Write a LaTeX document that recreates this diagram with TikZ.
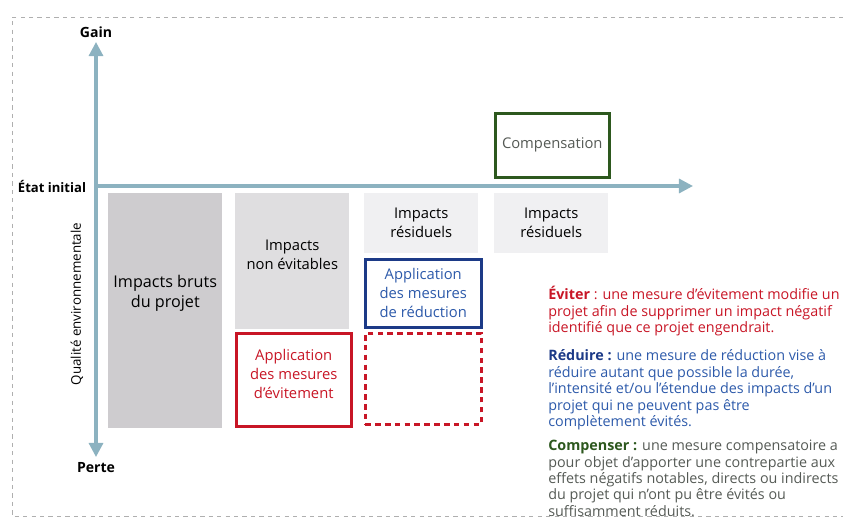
\documentclass[tikz,border=0pt]{standalone}
\usepackage{fontspec}
\setmainfont{Open Sans}
\usepackage{tikz}
\usetikzlibrary{positioning, arrows.meta}
\definecolor{AxeBleu}{RGB}{140,178,192}
\definecolor{GrisFonce}{RGB}{206,204,207}
\definecolor{GrisMoyen}{RGB}{223,222,224}
\definecolor{GrisClair}{RGB}{240,240,242}
\definecolor{EviterRouge}{RGB}{200,22,38}
\definecolor{ReduireBleu}{RGB}{28,58,135}
\definecolor{ReduireTexte}{RGB}{45,90,170}
\definecolor{CompVert}{RGB}{45,88,30}
\definecolor{CompTexte}{RGB}{85,90,85}
\definecolor{Cadre}{RGB}{175,175,175}

\begin{document}
\begin{tikzpicture}[
    impact/.style={rectangle, inner sep=0pt, anchor=north west},
    mesure/.style={rectangle, draw, line width=1.8pt, inner sep=0pt, anchor=north west, fill=white},
    boxtext/.style={font=\fontsize{10.5}{13.5}\selectfont, align=center},
    deftext/.style={font=\fontsize{10.2}{11.7}\selectfont, align=left, anchor=north west, inner sep=0pt},
    axe/.style={AxeBleu, line width=2.2pt}
  ]
        \useasboundingbox (0,0) rectangle (21.075,12.95);
        % Frame
        \draw[Cadre, dashed, thin] (21.075,12.525) -- (0.3,12.525) -- (0.3,0.05) -- (21.075,0.05);

        % Axes
        \coordinate (axeHaut) at (2.4,11.9);
        \coordinate (axeBas) at (2.4,1.525);
        \coordinate (origine) at (2.4,8.3);
        \coordinate (axeFin) at (17.325,8.3);
        \draw[axe, {Triangle[width=10pt,length=10pt]}-{Triangle[width=10pt,length=10pt]}] (axeBas) -- (axeHaut);
        \draw[axe, -{Triangle[width=10pt,length=10pt]}] (origine) -- (axeFin);
        \node[font=\fontsize{10}{12}\selectfont\bfseries] (gain) at (2.4,12.15) {Gain};
        \node[font=\fontsize{10}{12}\selectfont\bfseries] (perte) at (2.4,1.25) {Perte};
        \node[font=\fontsize{9.3}{12}\selectfont\bfseries] (etat) at (1.3,8.29) {État initial};
        \node[font=\fontsize{9.5}{12}\selectfont, rotate=90] (qualite) at (1.925,5.35) {Qualité environnementale};

        % Impacts (grey blocks)
        \node[impact, fill=GrisFonce, minimum width=2.85cm, minimum height=5.875cm] (brut) at (2.7,8.125) {};
        \node[boxtext, font=\fontsize{11.5}{14.5}\selectfont] (brutTxt) at ([yshift=0.44cm]brut.center) {Impacts bruts\\du projet};
        \node[impact, fill=GrisMoyen, minimum width=2.85cm, minimum height=3.4cm] (nonevit) at (5.875,8.125) {};
        \node[boxtext] (nonevitTxt) at ([yshift=0.15cm]nonevit.center) {Impacts\\non évitables};
        \node[impact, fill=GrisClair, minimum width=2.85cm, minimum height=1.5cm, boxtext] (residuA) at (9.1,8.125) {Impacts\\résiduels};
        \node[impact, fill=GrisClair, minimum width=2.85cm, minimum height=1.5cm, boxtext] (residuB) at (12.35,8.125) {Impacts\\résiduels};

        % Mesures
        \node[mesure, draw=EviterRouge, minimum width=2.875cm, minimum height=2.325cm] (evitement) at (5.875,4.65) {};
        \node[boxtext, text=EviterRouge] (evitementTxt) at ([yshift=0.14cm]evitement.center) {Application\\des mesures\\d'évitement};
        \node[mesure, draw=ReduireBleu, text=ReduireTexte, minimum width=2.9cm, minimum height=1.7cm, boxtext] (reduction) at (9.1,6.5) {Application\\des mesures\\de réduction};
        \node[mesure, draw=EviterRouge, dash pattern=on 4pt off 3pt, minimum width=2.9cm, minimum height=2.275cm] (evitementB) at (9.1,4.65) {};
        \node[mesure, draw=CompVert, text=CompTexte, minimum width=2.85cm, minimum height=1.6cm, boxtext] (compensation) at (12.35,10.15) {Compensation};

        % Definitions
        \node[deftext, text=EviterRouge] (defEviter) at (13.7,5.8) {\textbf{Éviter} : une mesure d'évitement modifie un\\projet afin de supprimer un impact négatif\\identifié que ce projet engendrait.};
        \node[deftext, text=ReduireTexte, below=0.33cm of defEviter.south west, anchor=north west] (defReduire) {\textbf{\color{ReduireBleu}Réduire :} une mesure de réduction vise à\\réduire autant que possible la durée,\\l'intensité et/ou l'étendue des impacts d'un\\projet qui ne peuvent pas être\\complètement évités.};
        \node[deftext, text=CompTexte, below=0.24cm of defReduire.south west, anchor=north west] (defCompenser) {\textbf{\color{CompVert}Compenser :} une mesure compensatoire a\\pour objet d'apporter une contrepartie aux\\effets négatifs notables, directs ou indirects\\du projet qui n'ont pu être évités ou\\suffisamment réduits.};
      \end{tikzpicture}
\end{document}
